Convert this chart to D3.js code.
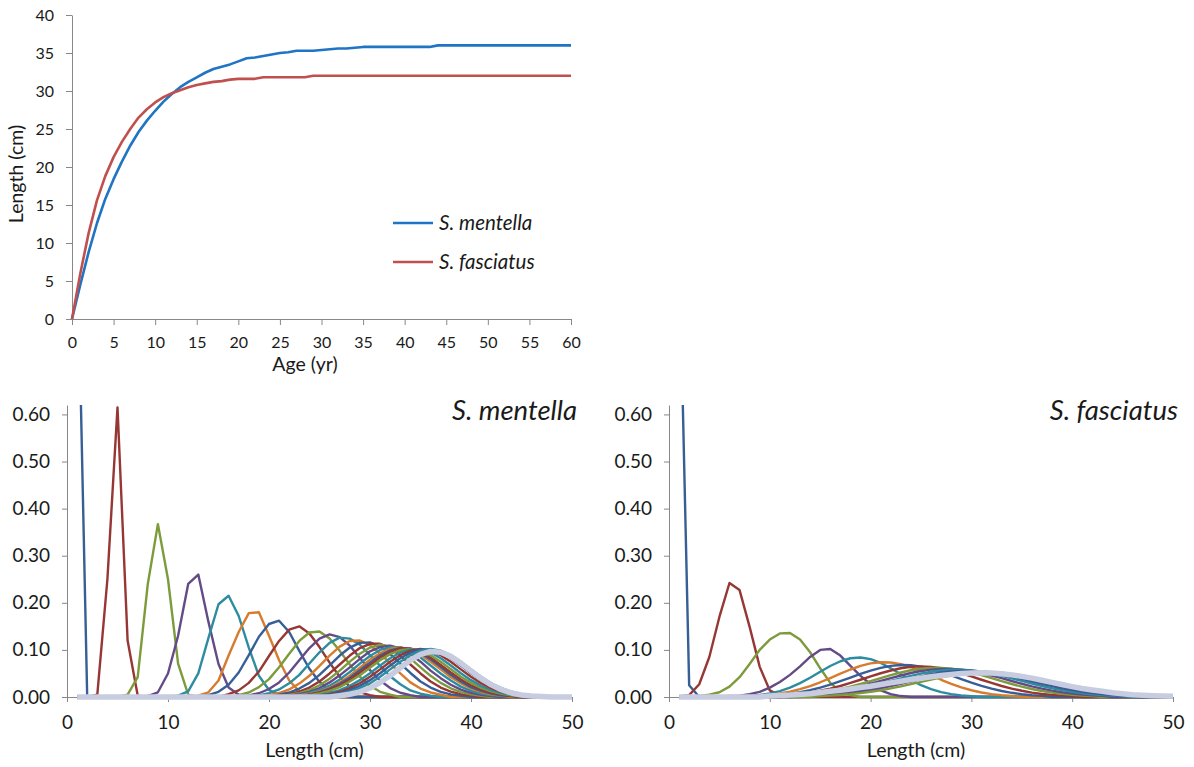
<!DOCTYPE html>
<html><head><meta charset="utf-8">
<script src="https://cdn.jsdelivr.net/npm/d3@7"></script>
<style>
html,body{margin:0;padding:0;background:#fff;}
svg{display:block;font-family:Lato,"Open Sans",sans-serif;}
</style></head><body>
<svg id="chart" width="1194" height="767"></svg>
<script>
// ---------- Top chart: length at age ----------
const ages = [0,1,2,3,4,5,6,7,8,9,10,11,12,13,14,15,16,17,18,19,20,21,22,23,24,25,26,27,28,29,30,31,32,33,34,35,36,37,38,39,40,41,42,43,44,45,46,47,48,49,50,51,52,53,54,55,56,57,58,59,60];
const mentellaLength = [0,4.5,8.8,12.6,15.8,18.4,20.7,22.8,24.6,26.1,27.4,28.6,29.6,30.5,31.2,31.8,32.4,32.9,33.2,33.5,33.9,34.3,34.4,34.6,34.8,35.0,35.1,35.3,35.3,35.3,35.4,35.5,35.6,35.6,35.7,35.8,35.8,35.8,35.8,35.8,35.8,35.8,35.8,35.8,36.0,36.0,36.0,36.0,36.0,36.0,36.0,36.0,36.0,36.0,36.0,36.0,36.0,36.0,36.0,36.0,36.0];
const fasciatusLength = [0,6.0,11.3,15.6,18.8,21.3,23.3,25.0,26.5,27.6,28.5,29.2,29.7,30.1,30.5,30.8,31.0,31.2,31.3,31.5,31.6,31.6,31.6,31.8,31.8,31.8,31.8,31.8,31.8,32.0,32.0,32.0,32.0,32.0,32.0,32.0,32.0,32.0,32.0,32.0,32.0,32.0,32.0,32.0,32.0,32.0,32.0,32.0,32.0,32.0,32.0,32.0,32.0,32.0,32.0,32.0,32.0,32.0,32.0,32.0,32.0];
const ageTicks = [0,5,10,15,20,25,30,35,40,45,50,55,60];
const lengthTicksTop = [0,5,10,15,20,25,30,35,40];
const speciesNames = ["S. mentella","S. fasciatus"];

// ---------- Bottom charts: length distributions at age ----------
// each curve: [first length bin, proportion at that bin, next bin, ...]; zero elsewhere
const lengthBins = [1,2,3,4,5,6,7,8,9,10,11,12,13,14,15,16,17,18,19,20,21,22,23,24,25,26,27,28,29,30,31,32,33,34,35,36,37,38,39,40,41,42,43,44,45,46,47,48,49,50];
const lengthTicks = [0,10,20,30,40,50];
const propTicks = [0,0.1,0.2,0.3,0.4,0.5,0.6];

const mentellaCurveAges = [0,1,2,3,4,5,6,7,8,9,10,11,12,13,14,15,16,17,18,19,20,22,25,30,40];
const mentellaCurves = [
 [1,1.0],
 [2,0,0.005,0.25,0.615,0.12,0.003],
 [5,0,0.005,0.042,0.24,0.367,0.25,0.071,0.005],
 [8,0.002,0.01,0.05,0.13,0.24,0.26,0.16,0.07,0.02,0.005],
 [11,0.003,0.012,0.05,0.125,0.197,0.215,0.172,0.105,0.045,0.015,0.004],
 [13,0.003,0.01,0.035,0.088,0.138,0.178,0.18,0.13,0.078,0.035,0.012,0.004],
 [14,0.004,0.011,0.026,0.052,0.089,0.128,0.155,0.162,0.138,0.098,0.06,0.032,0.014,0.005],
 [16,0.006,0.014,0.030,0.054,0.087,0.119,0.143,0.150,0.135,0.106,0.073,0.043,0.022,0.010,0.004],
 [17,0.004,0.0095,0.021,0.038,0.063,0.092,0.119,0.137,0.139,0.124,0.098,0.069,0.043,0.024,0.011,0.005],
 [18,0.0035,0.008,0.017,0.031,0.052,0.078,0.104,0.124,0.133,0.127,0.109,0.083,0.057,0.035,0.019,0.009,0.004],
 [19,0.0036,0.008,0.016,0.029,0.047,0.071,0.095,0.115,0.126,0.124,0.111,0.089,0.066,0.044,0.027,0.014,0.007,0.003],
 [20,0.004,0.0084,0.016,0.0285,0.045,0.066,0.088,0.107,0.119,0.12,0.11,0.093,0.071,0.05,0.031,0.018,0.0096,0.0047],
 [21,0.0048,0.0095,0.018,0.030,0.047,0.067,0.088,0.105,0.115,0.116,0.107,0.091,0.071,0.051,0.033,0.020,0.011,0.0055,0.0026],
 [21,0.003,0.006,0.0115,0.020,0.033,0.050,0.069,0.088,0.104,0.113,0.113,0.104,0.088,0.069,0.050,0.033,0.020,0.0115,0.006,0.0029],
 [22,0.0042,0.0082,0.0147,0.025,0.039,0.056,0.075,0.092,0.105,0.111,0.108,0.098,0.082,0.063,0.045,0.030,0.0185,0.0105,0.0055,0.0027],
 [22,0.003,0.006,0.011,0.019,0.031,0.046,0.063,0.081,0.097,0.106,0.109,0.103,0.091,0.075,0.056,0.040,0.026,0.0157,0.0088,0.0047,0.0022],
 [23,0.0045,0.0085,0.015,0.024,0.037,0.053,0.071,0.087,0.100,0.106,0.106,0.098,0.084,0.067,0.050,0.035,0.022,0.013,0.0075,0.004,0.002],
 [23,0.0034,0.0067,0.012,0.020,0.031,0.045,0.062,0.079,0.093,0.1025,0.1055,0.101,0.090,0.075,0.059,0.042,0.029,0.018,0.0107,0.0058,0.003],
 [24,0.0057,0.0103,0.0178,0.028,0.041,0.057,0.073,0.088,0.099,0.104,0.102,0.093,0.080,0.064,0.047,0.033,0.021,0.013,0.0074,0.0038,0.0019],
 [24,0.0049,0.009,0.0155,0.025,0.037,0.052,0.068,0.084,0.096,0.103,0.103,0.096,0.084,0.068,0.052,0.037,0.025,0.0155,0.009,0.0049,0.0025],
 [24,0.004,0.0076,0.013,0.021,0.033,0.046,0.062,0.078,0.091,0.0996,0.102,0.098,0.0885,0.075,0.059,0.043,0.030,0.0195,0.0118,0.0068,0.0036,0.0018],
 [24,0.002,0.0045,0.0084,0.0145,0.0236,0.0358,0.0506,0.0668,0.0821,0.0944,0.1011,0.1011,0.0944,0.0821,0.0668,0.0506,0.0358,0.0236,0.0145,0.0084,0.0045,0.002],
 [25,0.0032,0.0062,0.0111,0.0187,0.0293,0.0429,0.0586,0.0747,0.0888,0.0985,0.102,0.0985,0.0888,0.0747,0.0586,0.0429,0.0293,0.0187,0.0111,0.0062,0.0032,0.0015],
 [25,0.0022,0.0045,0.0084,0.0145,0.0236,0.0358,0.0506,0.0668,0.0821,0.0944,0.1011,0.1011,0.0944,0.0821,0.0668,0.0506,0.0358,0.0236,0.0145,0.0084,0.0045,0.0022],
 [26,0.0032,0.0062,0.0111,0.0187,0.0293,0.0429,0.0586,0.0747,0.0888,0.0985,0.102,0.0985,0.0888,0.0747,0.0586,0.0429,0.0293,0.0187,0.0111,0.0062,0.0032,0.0015]
];
const mentellaOldest = [27,0.0028,0.0058,0.011,0.0192,0.0308,0.0456,0.0622,0.0781,0.0905,0.0966,0.0951,0.0862,0.072,0.0555,0.0394,0.0258,0.0155,0.0086,0.0044,0.0021,0.001];

const fasciatusCurveAges = [0,1,2,3,4,5,6,7,8,9,10,12,15,20];
const fasciatusCurves = [
 [1,0.97,0.025,0],
 [1,0.001,0.004,0.027,0.085,0.17,0.242,0.227,0.149,0.064,0.014,0.003],
 [3,0.002,0.005,0.01,0.022,0.042,0.07,0.1,0.122,0.135,0.136,0.122,0.095,0.061,0.03,0.012,0.004],
 [6,0.002,0.003,0.006,0.011,0.02,0.032,0.047,0.065,0.085,0.1,0.102,0.088,0.066,0.045,0.027,0.014,0.006,0.002],
 [8,0.0022,0.0042,0.0075,0.0125,0.0198,0.0294,0.0409,0.0535,0.0658,0.0759,0.0823,0.0839,0.0803,0.0722,0.061,0.0484,0.0361,0.0253,0.0166,0.0103,0.006,0.0033,0.0017],
 [9,0.0029,0.0047,0.0074,0.0113,0.0166,0.0233,0.0313,0.0402,0.0496,0.0584,0.066,0.0713,0.0739,0.0732,0.0695,0.0632,0.055,0.0458,0.0366,0.028,0.0205,0.0143,0.0096,0.0062,0.0038,0.0022],
 [9,0.0017,0.0029,0.0046,0.007,0.0103,0.0146,0.020,0.0263,0.0335,0.0412,0.049,0.056,0.0619,0.066,0.0679,0.0674,0.0646,0.0597,0.0533,0.0459,0.0381,0.0306,0.0237,0.0177,0.0127,0.0089,0.0059,0.0038,0.0024],
 [10,0.0018,0.0029,0.0044,0.0065,0.0094,0.0132,0.0179,0.0234,0.0298,0.0366,0.0436,0.0504,0.0563,0.061,0.064,0.065,0.064,0.061,0.0563,0.0504,0.0436,0.0366,0.0298,0.0234,0.0179,0.0132,0.0094,0.0065,0.0044,0.0029,0.0018],
 [11,0.002,0.003,0.0045,0.0066,0.0093,0.0127,0.017,0.022,0.0276,0.0338,0.0402,0.0464,0.052,0.0567,0.060,0.0618,0.0618,0.060,0.0567,0.052,0.0464,0.0402,0.0338,0.0276,0.022,0.017,0.0127,0.0093,0.0066,0.0045,0.003,0.002],
 [12,0.0024,0.0036,0.0052,0.0074,0.0101,0.0136,0.0178,0.0227,0.0282,0.034,0.040,0.0457,0.0509,0.0552,0.0582,0.0598,0.0598,0.0582,0.0552,0.0509,0.0457,0.040,0.034,0.0282,0.0227,0.0178,0.0136,0.0101,0.0074,0.0052,0.0036,0.0024],
 [12,0.0019,0.0028,0.0041,0.0058,0.0081,0.011,0.0145,0.0186,0.0233,0.0286,0.0341,0.0396,0.045,0.0497,0.0536,0.0564,0.0578,0.0578,0.0564,0.0536,0.0497,0.045,0.0396,0.0341,0.0286,0.0233,0.0186,0.0145,0.011,0.0081,0.0058,0.0041,0.0028,0.0019],
 [13,0.002,0.003,0.0043,0.006,0.0083,0.0112,0.0146,0.0186,0.0232,0.0282,0.0334,0.0387,0.0437,0.0482,0.0519,0.0545,0.0558,0.0558,0.0545,0.0519,0.0482,0.0437,0.0387,0.0334,0.0282,0.0232,0.0186,0.0146,0.0112,0.0083,0.006,0.0043,0.003,0.002],
 [14,0.0022,0.0031,0.0045,0.0062,0.0085,0.0113,0.0146,0.0186,0.023,0.0278,0.0328,0.0378,0.0425,0.0467,0.0501,0.0526,0.0538,0.0538,0.0526,0.0501,0.0467,0.0425,0.0378,0.0328,0.0278,0.023,0.0186,0.0146,0.0113,0.0085,0.0062,0.0045,0.0031,0.0022],
 [15,0.0022,0.003,0.0044,0.0061,0.0083,0.0111,0.0143,0.0182,0.0225,0.0272,0.0321,0.037,0.0417,0.0458,0.0491,0.0515,0.0527,0.0527,0.0515,0.0491,0.0458,0.0417,0.037,0.0321,0.0272,0.0225,0.0182,0.0143,0.0111,0.0083,0.0061,0.0044,0.003,0.0022]
];
const fasciatusOldest = [10,0.002,0.003,0.004,0.0055,0.007,0.0095,0.012,0.0145,0.017,0.02,0.023,0.0265,0.03,0.0335,0.037,0.040,0.043,0.0455,0.048,0.0498,0.051,0.0515,0.051,0.0495,0.047,0.0438,0.040,0.0355,0.031,0.0265,0.022,0.0182,0.015,0.012,0.009,0.007,0.005,0.0038,0.0028,0.002,0.0015];

const seriesPalette = ["#375F96","#963734","#7D9B3C","#644B87","#2D8CA0","#D77B2E"];
const oldestColor = "#C7CCE0";

// ---------- drawing ----------
const svg = d3.select("#chart");
const AXIS = "#888888", TEXT = "#1a1a1a";

function styleAxis(g, fs){
  g.select(".domain").attr("stroke", AXIS).attr("stroke-width",1);
  g.selectAll(".tick line").attr("stroke", AXIS);
  g.selectAll(".tick text").attr("fill", TEXT).style("font-size", fs+"px").style("font-family","Lato, sans-serif");
}

// Top chart
const xTop = d3.scaleLinear().domain([0,60]).range([72,571]);
const yTop = d3.scaleLinear().domain([0,40]).range([319,15]);
const topG = svg.append("g");
topG.append("g").attr("transform","translate(0,319)")
  .call(d3.axisBottom(xTop).tickValues(ageTicks).tickSize(6).tickPadding(12).tickSizeOuter(0))
  .call(g=>styleAxis(g,16));
topG.append("g").attr("transform","translate(72,0)")
  .call(d3.axisLeft(yTop).tickValues(lengthTicksTop).tickSize(6).tickPadding(12).tickSizeOuter(0))
  .call(g=>styleAxis(g,16));
const lineTop = d3.line().x((d,i)=>xTop(ages[i])).y(d=>yTop(d));
const topColors = ["#1F74C4","#C0504D"];
[mentellaLength, fasciatusLength].forEach((s,k)=>{
  topG.append("path").attr("d", lineTop(s)).attr("fill","none")
    .attr("stroke", topColors[k]).attr("stroke-width",2.6).attr("stroke-linejoin","round");
});
topG.append("text").attr("transform","translate(23,174) rotate(-90)").attr("text-anchor","middle")
  .attr("fill",TEXT).style("font-size","19.5px").text("Length (cm)");
topG.append("text").attr("x",305).attr("y",371).attr("text-anchor","middle")
  .attr("fill",TEXT).style("font-size","19.5px").text("Age (yr)");
// legend
speciesNames.forEach((n,k)=>{
  const yy = 223 + k*39;
  topG.append("line").attr("x1",393).attr("x2",433).attr("y1",yy).attr("y2",yy)
    .attr("stroke",topColors[k]).attr("stroke-width",2.6);
  topG.append("text").attr("x",439).attr("y",yy+7).attr("fill",TEXT)
    .style("font-size","20.5px").style("font-style","italic").text(n);
});

// Bottom panels
function expand(c){
  const start = c[0], vals = c.slice(1);
  return lengthBins.map(L => (L>=start && L-start<vals.length) ? vals[L-start] : 0);
}
function panel(x0, x1, curves, curveAges, oldest, title, id){
  const x = d3.scaleLinear().domain([0,50]).range([x0,x1]);
  const y = d3.scaleLinear().domain([0,0.62]).range([697,405]);
  const g = svg.append("g");
  g.append("defs").append("clipPath").attr("id",id).append("rect")
    .attr("x",x0).attr("y",405).attr("width",x1-x0+10).attr("height",362);
  g.append("g").attr("transform","translate(0,697)")
    .call(d3.axisBottom(x).tickValues(lengthTicks).tickSize(5).tickPadding(14).tickSizeOuter(0))
    .call(a=>styleAxis(a,19));
  g.append("g").attr("transform",`translate(${x0},0)`)
    .call(d3.axisLeft(y).tickValues(propTicks).tickFormat(d3.format(".2f")).tickSize(5).tickPadding(12).tickSizeOuter(0))
    .call(a=>styleAxis(a,19));
  const line = d3.line().x((d,i)=>x(lengthBins[i])).y(d=>y(d));
  const pg = g.append("g").attr("clip-path",`url(#${id})`);
  curves.forEach((c,i)=>{
    pg.append("path").attr("d", line(expand(c))).attr("fill","none")
      .attr("stroke", seriesPalette[curveAges[i]%6]).attr("stroke-width",2.4)
      .attr("stroke-linejoin","round");
  });
  pg.append("path").attr("d", line(expand(oldest))).attr("fill","none")
    .attr("stroke", oldestColor).attr("stroke-width",5.5).attr("stroke-linejoin","round");
  g.append("text").attr("x",x1+5).attr("y",420).attr("text-anchor","end").attr("fill",TEXT)
    .style("font-size","27.5px").style("font-style","italic").text(title);
  g.append("text").attr("x",(x0+x1)/2 - 5).attr("y",757).attr("text-anchor","middle").attr("fill",TEXT)
    .style("font-size","19.5px").text("Length (cm)");
}
panel(67, 572, mentellaCurves, mentellaCurveAges, mentellaOldest, speciesNames[0], "clipM");
panel(669, 1173, fasciatusCurves, fasciatusCurveAges, fasciatusOldest, speciesNames[1], "clipF");
</script>
</body></html>
